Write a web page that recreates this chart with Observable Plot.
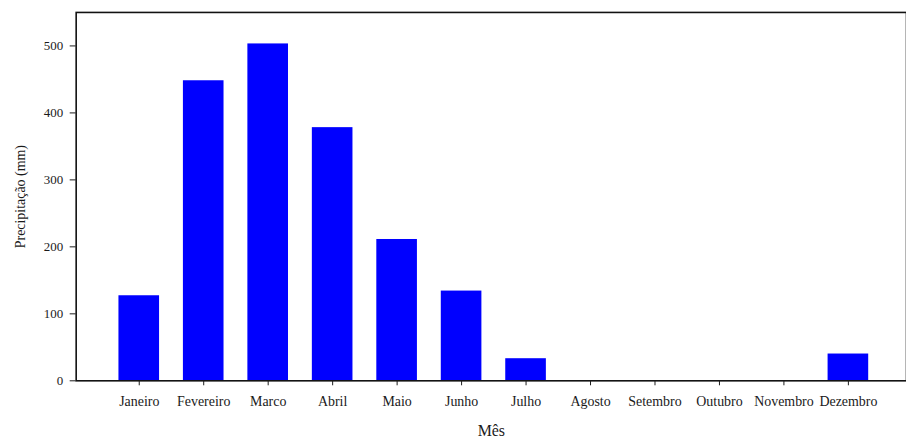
<!DOCTYPE html>
<html>
<head>
<meta charset="utf-8">
<script src="https://cdn.jsdelivr.net/npm/d3@7"></script>
<script src="https://cdn.jsdelivr.net/npm/@observablehq/plot@0.6"></script>
<style>
  html, body { margin: 0; padding: 0; background: #fff; overflow: hidden; }
  #chart svg { display: block; }
</style>
</head>
<body>
<div id="chart"></div>
<script>
// Precipitação mensal (mm)
const meses = ["Janeiro", "Fevereiro", "Marco", "Abril", "Maio", "Junho",
               "Julho", "Agosto", "Setembro", "Outubro", "Novembro", "Dezembro"];
const precipitacao = [127, 448, 503, 378, 211, 134, 33, 0, 0, 0, 0, 40];
const yTicks = [0, 100, 200, 300, 400, 500];

const dados = meses.map((mes, i) => ({mes, valor: precipitacao[i]}));

const chart = Plot.plot({
  width: 910,
  height: 442,
  marginLeft: 76,
  marginRight: 0,
  marginTop: 12,
  marginBottom: 60,
  style: {fontFamily: "'Liberation Serif', 'DejaVu Serif', serif", fontSize: "13px", color: "#1a1a1a"},
  x: {domain: meses, range: [95, 896], padding: 0.37, round: false},
  y: {domain: [0, 550]},
  marks: [
    Plot.barY(dados, {x: "mes", y: "valor", fill: "#0000ff"}),
    Plot.frame({stroke: "#111", strokeWidth: 1.6}),
    Plot.axisX({tickSize: 5, tickPadding: 10, label: null, fontSize: 14}),
    Plot.axisY(yTicks, {tickSize: 6, tickPadding: 7, label: null, fontSize: 13}),
    Plot.text(["Mês"], {frameAnchor: "bottom", dy: 50, lineAnchor: "middle", textAnchor: "middle", fontSize: 16, letterSpacing: "1px"}),
    Plot.text(["Precipitação (mm)"], {frameAnchor: "left", dx: -56, rotate: -90, lineAnchor: "middle", textAnchor: "middle", fontSize: 14, letterSpacing: "1px"})
  ]
});

document.getElementById("chart").append(chart);
</script>
</body>
</html>
